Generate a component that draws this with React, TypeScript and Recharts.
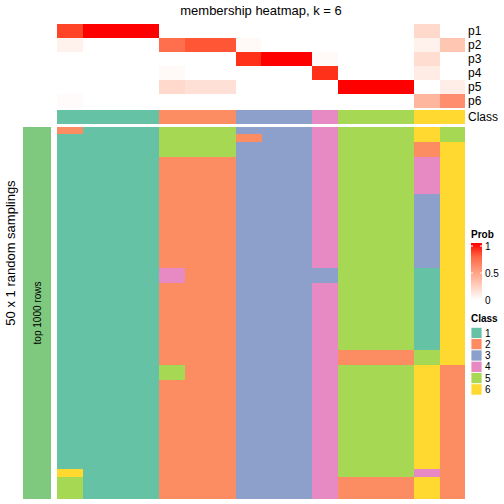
import React from 'react';
import { BarChart, Bar, XAxis, YAxis, Cell } from 'recharts';

const sampleIds = ['S01', 'S02', 'S03', 'S04', 'S05', 'S06', 'S07', 'S08', 'S09', 'S10', 'S11', 'S12', 'S13', 'S14', 'S15', 'S16'];
const rowNames = ['p1', 'p2', 'p3', 'p4', 'p5', 'p6'];

const probP1 = [0.88, 1, 1, 1, 0, 0, 0, 0, 0, 0, 0, 0, 0, 0, 0.2, 0];
const probP2 = [0.07, 0, 0, 0, 0.72, 0.82, 0.82, 0.03, 0, 0, 0, 0, 0, 0, 0.07, 0.3];
const probP3 = [0, 0, 0, 0, 0, 0, 0, 0.93, 1, 1, 0.03, 0, 0, 0, 0.18, 0];
const probP4 = [0, 0, 0, 0, 0.03, 0, 0, 0, 0, 0, 0.93, 0, 0, 0, 0.1, 0];
const probP5 = [0, 0, 0, 0, 0.2, 0.16, 0.16, 0, 0, 0, 0, 1, 1, 1, 0, 0.09];
const probP6 = [0.02, 0, 0, 0, 0, 0, 0, 0, 0, 0, 0, 0, 0, 0, 0.38, 0.58];
const probMatrix = [probP1, probP2, probP3, probP4, probP5, probP6];

const classLabels = [1, 1, 1, 1, 2, 2, 2, 3, 3, 3, 4, 5, 5, 5, 6, 6];
const classNames = [1, 2, 3, 4, 5, 6];
const classColors: Record<number, string> = {
  1: '#66C2A5',
  2: '#FC8D62',
  3: '#8DA0CB',
  4: '#E78AC3',
  5: '#A6D854',
  6: '#FFD92F',
};

// 50 random samplings, per column: runs of class labels (top to bottom) and their lengths
const runClasses = [
  [2, 1, 6, 5],
  [1],
  [1],
  [1],
  [5, 2, 4, 2, 5, 2],
  [5, 2],
  [5, 2],
  [3, 2, 3],
  [3],
  [3],
  [4, 3, 4],
  [5, 2, 5, 2],
  [5, 2, 5, 2],
  [5, 2, 5, 2],
  [6, 2, 4, 3, 1, 5, 6, 4, 6],
  [5, 6, 2],
];
const runLengths = [
  [1, 45, 1, 3],
  [50],
  [50],
  [50],
  [4, 15, 2, 11, 2, 16],
  [4, 46],
  [4, 46],
  [1, 1, 48],
  [50],
  [50],
  [19, 2, 29],
  [30, 2, 15, 3],
  [30, 2, 15, 3],
  [30, 2, 15, 3],
  [2, 2, 5, 10, 11, 2, 14, 1, 3],
  [2, 30, 18],
];
const nSamplings = 50;
const annotationLabel = 'top 1000 rows';
const probTicks = [1, 0.5, 0];

// white -> red interpolation in LAB space
const labWhite = [100, 0, 0];
const labRed = [53.2408, 80.0925, 67.2032];
function labToHex(L: number, a: number, b: number): string {
  const fy = (L + 16) / 116;
  const fx = fy + a / 500;
  const fz = fy - b / 200;
  const finv = (t: number) => (t > 0.206893 ? t * t * t : (t - 16 / 116) / 7.787);
  const X = 0.95047 * finv(fx);
  const Y = 1.0 * finv(fy);
  const Z = 1.08883 * finv(fz);
  const rl = 3.2406 * X - 1.5372 * Y - 0.4986 * Z;
  const gl = -0.9689 * X + 1.8758 * Y + 0.0415 * Z;
  const bl = 0.0557 * X - 0.204 * Y + 1.057 * Z;
  const g = (c: number) => {
    const v = c <= 0.0031308 ? 12.92 * c : 1.055 * Math.pow(Math.max(c, 0), 1 / 2.4) - 0.055;
    return Math.round(Math.min(1, Math.max(0, v)) * 255);
  };
  const h = (n: number) => n.toString(16).padStart(2, '0');
  return '#' + h(g(rl)) + h(g(gl)) + h(g(bl));
}
function probColor(p: number): string {
  const L = labWhite[0] + (labRed[0] - labWhite[0]) * p;
  const A = labWhite[1] + (labRed[1] - labWhite[1]) * p;
  const B = labWhite[2] + (labRed[2] - labWhite[2]) * p;
  return labToHex(L, A, B);
}

const maxRuns = Math.max(...runLengths.map((r) => r.length));
const runKeys = Array.from({ length: maxRuns }, (_, k) => 's' + k);

const probData = sampleIds.map((id) => {
  const row: any = { id };
  rowNames.forEach((r) => (row[r] = 1));
  return row;
});
const classData = sampleIds.map((id, j) => ({ id, cls: 1, label: classLabels[j] }));
const mainData = sampleIds.map((id, j) => {
  const row: any = { id };
  runKeys.forEach((k, i) => (row[k] = runLengths[j][i] ?? 0));
  return row;
});
const annoData = [{ id: annotationLabel, v: 1 }];

const FONT = "'Liberation Sans', Arial, Helvetica, sans-serif";
const M = { top: 0, right: 0, bottom: 0, left: 0 };

const HM_LEFT = 57;
const HM_WIDTH = 408;

const abs = (left: number, top: number): React.CSSProperties => ({ position: 'absolute', left, top });

export default function App() {
  const gradStops = [0, 0.25, 0.5, 0.75, 1];
  return (
    <div style={{ position: 'absolute', left: 0, top: 0, width: 504, height: 504, background: '#fff', fontFamily: FONT }}>
      {/* probability rows */}
      <div style={abs(HM_LEFT, 24)}>
        <BarChart width={HM_WIDTH} height={84} data={probData} margin={M} barCategoryGap={0} barGap={0}>
          <XAxis dataKey="id" hide />
          <YAxis hide type="number" domain={[0, rowNames.length]} reversed />
          {rowNames.map((r, i) => (
            <Bar key={r} dataKey={r} stackId="p" isAnimationActive={false} shapeRendering="crispEdges">
              {probData.map((d, j) => (
                <Cell key={d.id} fill={probColor(probMatrix[i][j])} />
              ))}
            </Bar>
          ))}
        </BarChart>
      </div>
      {/* class row */}
      <div style={abs(HM_LEFT, 110)}>
        <BarChart width={HM_WIDTH} height={14} data={classData} margin={M} barCategoryGap={0} barGap={0}>
          <XAxis dataKey="id" hide />
          <YAxis hide type="number" domain={[0, 1]} />
          <Bar dataKey="cls" isAnimationActive={false} shapeRendering="crispEdges">
            {classData.map((d) => (
              <Cell key={d.id} fill={classColors[d.label]} />
            ))}
          </Bar>
        </BarChart>
      </div>
      {/* main sampling heatmap */}
      <div style={abs(HM_LEFT, 127)}>
        <BarChart width={HM_WIDTH} height={372} data={mainData} margin={M} barCategoryGap={0} barGap={0}>
          <XAxis dataKey="id" hide />
          <YAxis hide type="number" domain={[0, nSamplings]} reversed />
          {runKeys.map((k, i) => (
            <Bar key={k} dataKey={k} stackId="m" isAnimationActive={false} shapeRendering="crispEdges">
              {mainData.map((d, j) => (
                <Cell key={d.id} fill={runClasses[j][i] !== undefined ? classColors[runClasses[j][i]] : 'none'} />
              ))}
            </Bar>
          ))}
        </BarChart>
      </div>
      {/* left annotation */}
      <div style={abs(23, 127)}>
        <BarChart width={28} height={372} data={annoData} margin={M} barCategoryGap={0}>
          <XAxis dataKey="id" hide />
          <YAxis hide type="number" domain={[0, 1]} />
          <Bar dataKey="v" fill="#7FC97F" isAnimationActive={false} shapeRendering="crispEdges" />
        </BarChart>
      </div>
      {/* texts and legends */}
      <svg width={504} height={504} style={{ position: 'absolute', left: 0, top: 0, pointerEvents: 'none' }} fontFamily={FONT}>
        <defs>
          <linearGradient id="probGrad" x1="0" y1="1" x2="0" y2="0">
            {gradStops.map((t) => (
              <stop key={t} offset={t} stopColor={probColor(t)} />
            ))}
          </linearGradient>
        </defs>
        <text x={261} y={15} fontSize={13} textAnchor="middle" fill="#000">
          membership heatmap, k = 6
        </text>
        {rowNames.map((r, i) => (
          <text key={r} x={468} y={31 + 14 * i + 4.3} fontSize={12} fill="#000">
            {r}
          </text>
        ))}
        <text x={468} y={117 + 4.3} fontSize={12} fill="#000">
          Class
        </text>
        <text transform="translate(15,253) rotate(-90)" fontSize={13} textAnchor="middle" fill="#000">
          50 x 1 random samplings
        </text>
        <text transform="translate(41,313) rotate(-90)" fontSize={10} textAnchor="middle" fill="#000">
          {annotationLabel}
        </text>
        {/* Prob legend */}
        <text x={471} y={238} fontSize={10} fontWeight="bold" fill="#000">
          Prob
        </text>
        <rect x={471} y={243} width={11} height={57} fill="url(#probGrad)" />
        {probTicks.map((t) => {
          const y = 300 - t * 54;
          return (
            <g key={t}>
              <line x1={471} x2={473} y1={y} y2={y} stroke="#fff" strokeWidth={1} />
              <line x1={480} x2={482} y1={y} y2={y} stroke="#fff" strokeWidth={1} />
              <text x={485} y={y + 3.6} fontSize={10} fill="#000">
                {t}
              </text>
            </g>
          );
        })}
        {/* Class legend */}
        <text x={471} y={321.5} fontSize={10} fontWeight="bold" fill="#000">
          Class
        </text>
        {classNames.map((c, i) => {
          const y = 327.3 + i * 11.3;
          return (
            <g key={c}>
              <rect x={471} y={y} width={11} height={11.3} fill={classColors[c]} stroke="#fff" strokeWidth={0.8} />
              <text x={485} y={y + 5.65 + 3.6} fontSize={10} fill="#000">
                {c}
              </text>
            </g>
          );
        })}
      </svg>
    </div>
  );
}
